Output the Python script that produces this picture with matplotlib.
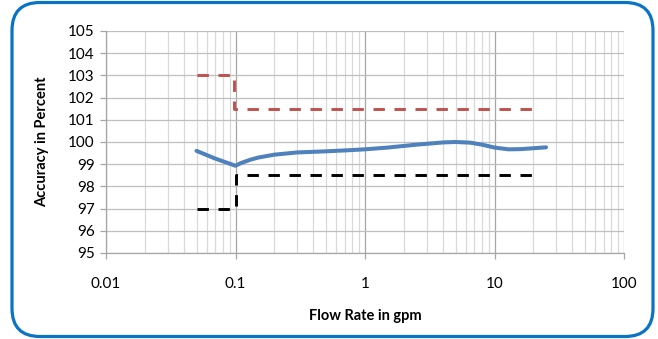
import matplotlib
matplotlib.use("Agg")
import matplotlib.pyplot as plt
from matplotlib.patches import FancyBboxPatch
from matplotlib.ticker import LogLocator, FixedLocator, NullFormatter

# measured accuracy curve
flow = [0.05, 0.07, 0.1, 0.11, 0.13, 0.15, 0.2, 0.3, 0.5, 0.75, 1.0, 1.5, 2.5, 4.0,
        5.0, 6.5, 8.0, 10.0, 12.8, 16.0, 20.0, 25.0]
accuracy = [99.6, 99.25, 98.93, 99.05, 99.2, 99.3, 99.43, 99.53, 99.58, 99.63, 99.67, 99.75,
            99.88, 99.98, 100.0, 99.97, 99.88, 99.75, 99.67, 99.68, 99.72, 99.76]

# upper tolerance limit
upper_x = [0.05, 0.098, 0.098, 22.0]
upper_y = [103.0, 103.0, 101.5, 101.5]

# lower tolerance limit
lower_x = [0.05, 0.1, 0.1, 22.0]
lower_y = [97.0, 97.0, 98.5, 98.5]

x_ticks = [0.01, 0.1, 1, 10, 100]
x_labels = ["0.01", "0.1", "1", "10", "100"]
y_ticks = list(range(95, 106))

plt.rcParams["font.family"] = ["Lato", "DejaVu Sans"]

W, H = 658, 339
fig = plt.figure(figsize=(W / 100, H / 100), dpi=100)

# rounded blue frame, drawn in pixel units
bg = fig.add_axes([0, 0, 1, 1])
bg.set_xlim(0, W)
bg.set_ylim(0, H)
bg.axis("off")
bg.add_patch(FancyBboxPatch((12, 2.5), 641, 334, boxstyle="round,pad=0,rounding_size=28",
                            facecolor="white", edgecolor="#0A74C4", linewidth=2.3))

ax = fig.add_axes([106 / W, 1 - 253 / H, (624 - 106) / W, (253 - 31) / H])
ax.set_facecolor("none")
ax.set_xscale("log")
ax.set_xlim(0.01, 100)
ax.set_ylim(95, 105)

ax.plot(upper_x, upper_y, color="#C0504D", lw=2.1, dashes=(3.9, 3.3))
ax.plot(lower_x, lower_y, color="black", lw=2.1, dashes=(3.9, 3.3))
ax.plot(flow, accuracy, color="#4F81BD", lw=2.9, solid_capstyle="round",
        solid_joinstyle="round")

ax.xaxis.set_major_locator(FixedLocator(x_ticks))
ax.set_xticklabels(x_labels)
ax.xaxis.set_minor_locator(LogLocator(base=10, subs=range(2, 10), numticks=20))
ax.xaxis.set_minor_formatter(NullFormatter())
ax.set_yticks(y_ticks)

ax.grid(which="major", axis="y", color="#BFBFBF", lw=0.9)
ax.grid(which="major", axis="x", color="#A6A6A6", lw=0.9)
ax.grid(which="minor", axis="x", color="#D9D9D9", lw=0.9)
ax.set_axisbelow(True)

for s in ["top", "right"]:
    ax.spines[s].set_visible(False)
for s in ["left", "bottom"]:
    ax.spines[s].set_color("#A6A6A6")
    ax.spines[s].set_linewidth(0.9)

ax.tick_params(axis="both", which="major", direction="out", length=4, width=0.9,
               color="#A6A6A6", labelsize=11, labelcolor="black")
ax.tick_params(axis="x", which="major", pad=13)
ax.tick_params(axis="y", which="major", pad=4)
ax.tick_params(axis="x", which="minor", length=0)

ax.set_xlabel("Flow Rate in gpm", fontsize=10.5, fontweight="bold", labelpad=13)
ax.set_ylabel("Accuracy in Percent", fontsize=10.5, fontweight="bold", labelpad=14)

fig.savefig("out.png", dpi=100)
